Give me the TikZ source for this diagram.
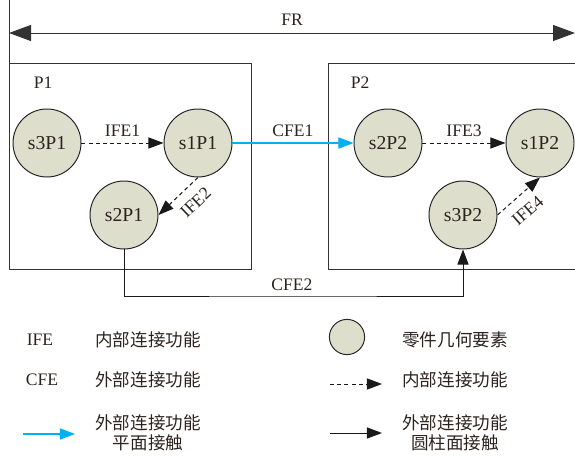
\documentclass[tikz,border=0pt]{standalone}
\usepackage{fontspec}
\setmainfont{Liberation Serif}
\newfontfamily\cjk{Noto Sans CJK SC}
\usepackage{tikz}
\usetikzlibrary{arrows.meta,positioning,calc}
\definecolor{featfill}{RGB}{221,222,204}
\definecolor{cfeblue}{RGB}{0,176,240}
\definecolor{inkdark}{RGB}{45,35,30}
\newcommand{\lbl}{\fontsize{12.5}{14}\selectfont}
\newcommand{\zh}[1]{{\cjk\fontsize{12.5}{17}\selectfont #1}}

\begin{document}
\begin{tikzpicture}[
  font=\lbl, text=inkdark,
  feat/.style={circle, draw=black!85, line width=0.7pt, fill=featfill,
               minimum size=17mm, inner sep=0pt, font=\fontsize{14}{16}\selectfont},
  part/.style={draw=black!80, line width=0.7pt},
  ife/.style={-{Triangle[length=3.8mm, width=2.8mm]}, draw=black!90, line width=0.7pt,
              dash pattern=on 1mm off 0.8mm},
  cfeflat/.style={-{Triangle[length=3.8mm, width=2.8mm]}, draw=cfeblue, line width=0.8pt},
  cfecyl/.style={-{Triangle[length=3.8mm, width=2.8mm]}, draw=black!90, line width=0.7pt},
  span/.style={{Triangle[length=5.5mm, width=4mm]}-{Triangle[length=5.5mm, width=4mm]},
               draw=black!80, line width=0.7pt},
]
\useasboundingbox (0,0) rectangle (14.375,11.4);

% ============================================================
% FR span and the two parts
% ============================================================
\coordinate (frl) at (0.225,10.575);
\coordinate (frr) at (14.375,10.575);
\draw[span] (frl) -- (frr) node[midway, above=2pt] {FR};
\draw[part] (0.225,11.4) -- (0.225,9.825);

\node[part, minimum width=6.05cm, minimum height=5.15cm, anchor=north west] (p1) at (0.225,9.825) {};
\node[part, minimum width=6.3cm, minimum height=5.15cm, anchor=north west] (p2) at (8.2,9.825) {};
\node[anchor=west] at (0.72,9.325) {P1};
\node[anchor=west] at (8.65,9.325) {P2};

% geometric features
\def\yu{7.825}\def\yl{6.025}
\node[feat] (s3P1) at (1.175,\yu) {s3P1};
\node[feat] (s1P1) at (4.95,\yu)  {s1P1};
\node[feat] (s2P1) at (3.1,\yl)   {s2P1};
\node[feat] (s2P2) at (9.7,\yu)   {s2P2};
\node[feat] (s1P2) at (13.5,\yu)  {s1P2};
\node[feat] (s3P2) at (11.575,\yl) {s3P2};

% internal functions
\draw[ife] (s3P1) -- (s1P1) node[midway, above=1pt] {IFE1};
\draw[ife] (s1P1.south) -- (s2P1.east) node[pos=0.35, below=4pt, sloped] {IFE2};
\draw[ife] (s3P2.east) -- (s1P2.south) node[pos=0.45, below=4pt, sloped] {IFE4};
\draw[ife] (s2P2) -- (s1P2) node[midway, above=1pt] {IFE3};

% external functions
\draw[cfeflat] (s1P1) -- (s2P2) node[midway, above=1pt] {CFE1};
\draw[cfecyl] (s2P1.south) |- (7.3,4.0) node[above] {CFE2} -| (s3P2.south);

% ============================================================
% LEGEND
% ============================================================
\node (kife) at (1.0,2.9) {IFE};
\node (kcfe) at (1.05,1.9) {CFE};
\node (tife) at (3.7,2.9) {\zh{内部连接功能}};
\node (tcfe) at (3.7,1.9) {\zh{外部连接功能}};
\coordinate (ba) at (0.575,0.55);
\coordinate (bb) at (1.875,0.55);
\draw[cfeflat] (ba) -- (bb);
\node[align=center] (tflat) at (3.7,0.575) {\zh{外部连接功能}\\\zh{平面接触}};

\node[feat, minimum size=8.8mm] (kfeat) at (8.675,2.975) {};
\node (tfeat) at (11.375,2.9) {\zh{零件几何要素}};
\coordinate (da) at (8.25,1.8);
\coordinate (db) at (9.55,1.8);
\draw[ife] (da) -- (db);
\node (tint) at (11.375,1.9) {\zh{内部连接功能}};
\coordinate (ca) at (8.25,0.575);
\coordinate (cb) at (9.55,0.575);
\draw[cfecyl] (ca) -- (cb);
\node[align=center] (tcyl) at (11.375,0.575) {\zh{外部连接功能}\\\zh{圆柱面接触}};

\end{tikzpicture}
\end{document}
